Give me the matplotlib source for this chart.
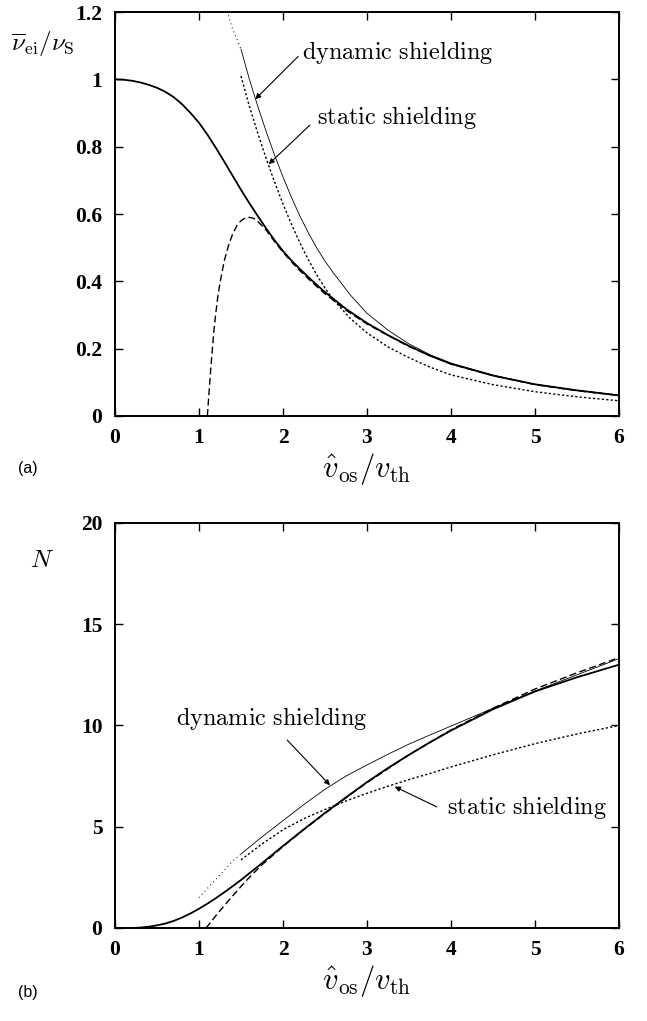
import matplotlib
matplotlib.use("Agg")
import matplotlib.pyplot as plt

plt.rcParams['mathtext.fontset'] = 'cm'
plt.rcParams['font.family'] = ['Liberation Serif', 'DejaVu Serif']

# ---------------- panel (a): collision frequency ----------------
x_a_exact = [0, 0.1, 0.2, 0.3, 0.4, 0.5, 0.6, 0.7, 0.8, 0.9, 1.0, 1.1, 1.2, 1.3, 1.4, 1.5, 1.6, 1.7, 1.8, 1.9,
             2.0, 2.1, 2.2, 2.3, 2.4, 2.5, 2.75, 3.0, 3.25, 3.5, 3.75, 4.0, 4.5, 5.0, 5.5, 6.0]
nu_exact = [1.0, 0.999, 0.996, 0.991, 0.984, 0.975, 0.963, 0.947, 0.926, 0.9, 0.871, 0.836, 0.797, 0.756, 0.714,
            0.672, 0.632, 0.594, 0.557, 0.522, 0.49, 0.462, 0.437, 0.413, 0.39, 0.368, 0.318, 0.276, 0.24, 0.208,
            0.179, 0.155, 0.12, 0.094, 0.076, 0.061]

x_a_asym = [1.10, 1.12, 1.14, 1.16, 1.18, 1.2, 1.225, 1.25, 1.3, 1.35, 1.4, 1.45, 1.5, 1.55, 1.6, 1.65, 1.7, 1.8,
            1.9, 2.0, 2.1, 2.2, 2.3, 2.4, 2.5, 2.75, 3.0, 3.5, 4.0, 4.5, 5.0, 5.5, 6.0]
nu_asym = [0.0, 0.07, 0.14, 0.2, 0.26, 0.305, 0.355, 0.395, 0.46, 0.505, 0.54, 0.565, 0.58, 0.588, 0.59, 0.587,
           0.578, 0.552, 0.518, 0.487, 0.458, 0.432, 0.408, 0.385, 0.363, 0.314, 0.273, 0.206, 0.154, 0.12, 0.093,
           0.075, 0.061]

x_a_dyn_dots = [1.35, 1.40, 1.45, 1.5]
nu_dyn_dots = [1.19, 1.15, 1.12, 1.09]
x_a_dyn = [1.5, 1.6, 1.7, 1.8, 1.9, 2.0, 2.1, 2.2, 2.3, 2.4, 2.5, 2.6, 2.8, 3.0, 3.25, 3.5, 3.75, 4.0, 4.5, 5.0, 5.5, 6.0]
nu_dyn = [1.09, 1.0, 0.92, 0.845, 0.775, 0.71, 0.65, 0.595, 0.545, 0.5, 0.46, 0.425, 0.36, 0.305, 0.255, 0.214,
          0.182, 0.157, 0.121, 0.094, 0.076, 0.062]

x_a_stat = [1.5, 1.6, 1.7, 1.8, 1.9, 2.0, 2.1, 2.2, 2.3, 2.4, 2.5, 2.6, 2.8, 3.0, 3.25, 3.5, 3.75, 4.0, 4.5, 5.0, 5.5, 6.0]
nu_stat = [1.01, 0.92, 0.84, 0.765, 0.695, 0.63, 0.57, 0.515, 0.465, 0.42, 0.38, 0.345, 0.29, 0.247, 0.205, 0.173,
           0.145, 0.122, 0.093, 0.072, 0.057, 0.045]

# ---------------- panel (b): N ----------------
x_b_exact = [0, 0.2, 0.3, 0.4, 0.5, 0.6, 0.7, 0.8, 0.9, 1.0, 1.1, 1.2, 1.3, 1.4, 1.5, 1.75, 2.0, 2.25, 2.5, 2.75,
             3.0, 3.25, 3.5, 3.75, 4.0, 4.5, 5.0, 5.5, 6.0]
N_exact = [0, 0.0, 0.02, 0.06, 0.13, 0.22, 0.35, 0.52, 0.72, 0.95, 1.2, 1.47, 1.76, 2.06, 2.37, 3.2, 4.05, 4.88,
           5.68, 6.45, 7.2, 7.9, 8.55, 9.17, 9.75, 10.8, 11.68, 12.38, 13.0]

x_b_asym = [1.08, 1.1, 1.2, 1.3, 1.4, 1.5, 1.6, 1.75, 2.0, 2.25, 2.5, 2.75, 3.0, 3.5, 4.0, 4.5, 5.0, 5.5, 6.0]
N_asym = [0.0, 0.08, 0.6, 1.1, 1.58, 2.05, 2.5, 3.12, 4.02, 4.86, 5.66, 6.43, 7.18, 8.55, 9.78, 10.85, 11.8, 12.6,
          13.35]

x_b_dyn_dots = [1.0, 1.1, 1.2, 1.3, 1.4, 1.5]
N_dyn_dots = [1.5, 1.95, 2.4, 2.85, 3.3, 3.65]
x_b_dyn = [1.5, 1.75, 2.0, 2.25, 2.5, 2.75, 3.0, 3.25, 3.5, 3.75, 4.0, 4.5, 5.0, 5.5, 6.0]
N_dyn = [3.65, 4.5, 5.3, 6.1, 6.85, 7.5, 8.05, 8.58, 9.08, 9.53, 9.97, 10.85, 11.7, 12.5, 13.3]

x_b_stat = [1.5, 1.75, 2.0, 2.25, 2.5, 2.75, 3.0, 3.25, 3.5, 3.75, 4.0, 4.5, 5.0, 5.5, 6.0]
N_stat = [3.36, 4.15, 4.85, 5.4, 5.85, 6.27, 6.65, 7.0, 7.33, 7.63, 7.95, 8.55, 9.1, 9.58, 10.0]

xticks = [0, 1, 2, 3, 4, 5, 6]
yticks_a = [0, 0.2, 0.4, 0.6, 0.8, 1.0, 1.2]
ytick_labels_a = ['0', '0.2', '0.4', '0.6', '0.8', '1', '1.2']
yticks_b = [0, 5, 10, 15, 20]

fig = plt.figure(figsize=(6.47, 10.21), dpi=100)
axa = fig.add_axes([0.1777, 0.5926, 0.779, 0.3956])
axb = fig.add_axes([0.1777, 0.0911, 0.779, 0.3967])

solid_kw = dict(color='black', lw=1.3)
asym_kw = dict(color='black', lw=1.0, dashes=(5, 2.5))
dyn_kw = dict(color='black', lw=0.6)
dots_kw = dict(color='black', lw=0.8, dashes=(0.8, 3))
stat_kw = dict(color='black', lw=1.0, dashes=(1.6, 1.6))

axa.plot(x_a_exact, nu_exact, **solid_kw)
axa.plot(x_a_asym, nu_asym, **asym_kw)
axa.plot(x_a_dyn_dots, nu_dyn_dots, **dots_kw)
axa.plot(x_a_dyn, nu_dyn, **dyn_kw)
axa.plot(x_a_stat, nu_stat, **stat_kw)

axb.plot(x_b_exact, N_exact, **solid_kw)
axb.plot(x_b_asym, N_asym, **asym_kw)
axb.plot(x_b_dyn_dots, N_dyn_dots, **dots_kw)
axb.plot(x_b_dyn, N_dyn, **dyn_kw)
axb.plot(x_b_stat, N_stat, **stat_kw)

tick_font = dict(fontsize=15.5, fontweight='bold', family='Liberation Serif')
for ax in (axa, axb):
    ax.set_xlim(0, 6)
    ax.set_xticks(xticks)
    ax.set_xticklabels([str(t) for t in xticks], **tick_font)
    ax.tick_params(direction='in', top=True, right=True, length=6, width=1.0)
    ax.tick_params(axis='x', pad=9)
    ax.tick_params(axis='y', pad=9)
    for s in ax.spines.values():
        s.set_linewidth(1.4)
    ax.set_xlabel(r'$\hat{v}_{\rm os}/v_{\rm th}$', fontsize=22, labelpad=2)

axa.set_ylim(0, 1.2)
axa.set_yticks(yticks_a)
axa.set_yticklabels(ytick_labels_a, **tick_font)
axb.set_ylim(0, 20)
axb.set_yticks(yticks_b)
axb.set_yticklabels([str(t) for t in yticks_b], **tick_font)

fig.text(43 / 647, 1 - 44 / 1021, r'$\overline{\nu}_{\rm ei}/\nu_{\rm S}$', fontsize=18, ha='center', va='center')
fig.text(42 / 647, 1 - 561 / 1021, r'$N$', fontsize=18, ha='center', va='center')
fig.text(28 / 647, 1 - 468 / 1021, '(a)', fontsize=11.5, family='Liberation Sans', ha='center', va='center')
fig.text(28 / 647, 1 - 992 / 1021, '(b)', fontsize=11.5, family='Liberation Sans', ha='center', va='center')

ann_kw = dict(fontsize=17.5, ha='center', va='center')
arrow = dict(arrowstyle='-|>', color='black', lw=0.8, mutation_scale=8, shrinkA=0, shrinkB=0)

axa.text(3.37, 1.08, r'$\mathrm{dynamic\ shielding}$', **ann_kw)
axa.annotate('', xy=(1.67, 0.941), xytext=(2.18, 1.068), arrowprops=arrow)
axa.text(3.36, 0.887, r'$\mathrm{static\ shielding}$', **ann_kw)
axa.annotate('', xy=(1.83, 0.748), xytext=(2.32, 0.864), arrowprops=arrow)

axb.text(1.87, 10.32, r'$\mathrm{dynamic\ shielding}$', **ann_kw)
axb.annotate('', xy=(2.56, 7.05), xytext=(2.05, 9.28), arrowprops=arrow)
axb.text(4.90, 5.93, r'$\mathrm{static\ shielding}$', **ann_kw)
axb.annotate('', xy=(3.33, 6.98), xytext=(3.83, 5.98), arrowprops=arrow)

fig.savefig('out.png', dpi=100)
